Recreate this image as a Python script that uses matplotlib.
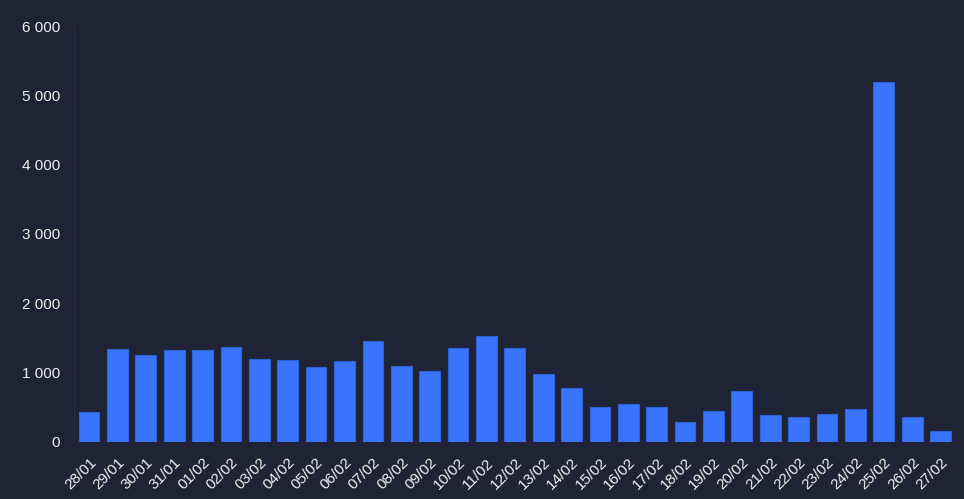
import matplotlib
matplotlib.use("Agg")
import matplotlib.pyplot as plt
from matplotlib.ticker import FuncFormatter, MultipleLocator

dates = ["28/01", "29/01", "30/01", "31/01", "01/02", "02/02", "03/02", "04/02",
         "05/02", "06/02", "07/02", "08/02", "09/02", "10/02", "11/02", "12/02",
         "13/02", "14/02", "15/02", "16/02", "17/02", "18/02", "19/02", "20/02",
         "21/02", "22/02", "23/02", "24/02", "25/02", "26/02", "27/02"]
values = [423, 1332, 1245, 1322, 1317, 1361, 1197, 1173,
          1077, 1168, 1447, 1091, 1019, 1356, 1529, 1351,
          971, 774, 500, 538, 505, 284, 438, 726,
          380, 356, 399, 476, 5190, 356, 149]

bg = "#1f2336"
bar_color = "#3a74fc"
text_color = "#f0f0f0"

plt.rcParams['font.family'] = ['Liberation Sans', 'DejaVu Sans']

fig = plt.figure(figsize=(9.64, 4.99), dpi=100, facecolor=bg)
ax = fig.add_axes([74/964, (499-441.7)/499, (955-74)/964, (441.7-26)/499])
ax.set_facecolor(bg)

x = list(range(len(dates)))
ax.bar(x, values, width=0.73, color=bar_color, edgecolor="#2f62d6", linewidth=0.8, zorder=2)

ax.set_xlim(-0.53, 30.51)
ax.set_ylim(0, 6000)
ax.yaxis.set_major_locator(MultipleLocator(1000))
ax.yaxis.set_major_formatter(FuncFormatter(lambda v, p: f"{int(v):,}".replace(",", " ")))

ax.set_xticks(x)
ax.set_xticklabels(dates, rotation=45, ha="right", rotation_mode="anchor")

for s in ["top", "right", "bottom"]:
    ax.spines[s].set_visible(False)
ax.spines["left"].set_color("#2a2f44")
ax.spines["left"].set_linewidth(0.8)

ax.tick_params(axis="both", length=0, colors=text_color, labelsize=11)
ax.tick_params(axis="y", pad=10)
ax.tick_params(axis="x", pad=10)

fig.savefig("out.png", dpi=100, facecolor=bg)
